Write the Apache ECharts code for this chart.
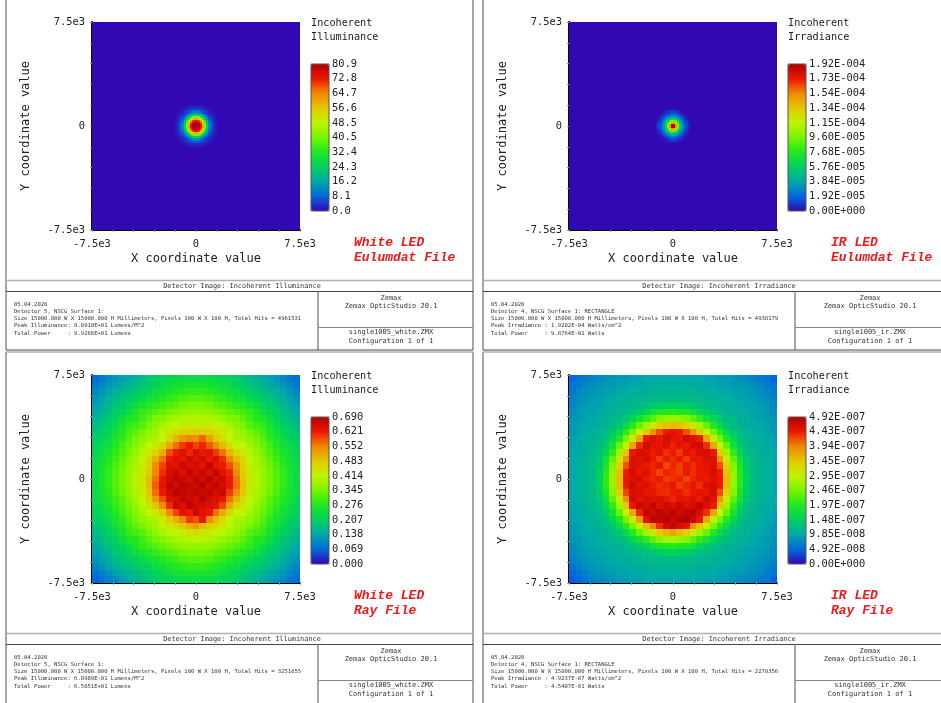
<!DOCTYPE html>
<html><head><meta charset="utf-8">
<style>html,body{margin:0;padding:0;background:#fff}#c{width:941px;height:703px}</style>
<script src="https://cdn.jsdelivr.net/npm/echarts@6/dist/echarts.min.js"></script>
</head><body><div id="c"></div>
<script>
// Values are percent of each detector's peak.
const whiteEulumdatSpot = [
[0,0,0,0,0,1,1,2,2,2,2,2,2,1,1,0,0,0,0,0],
[0,0,0,1,1,2,3,3,4,4,4,4,3,3,2,1,1,0,0,0],
[0,0,1,1,3,4,5,6,8,8,8,8,6,5,4,3,1,1,0,0],
[0,1,1,3,4,6,9,11,14,16,16,14,11,9,6,4,3,1,1,0],
[0,1,3,4,7,11,16,23,28,32,32,28,23,16,11,7,4,3,1,0],
[1,2,4,6,11,18,28,40,48,52,52,48,40,28,18,11,6,4,2,1],
[1,3,5,9,16,28,42,58,69,75,75,69,58,42,28,16,9,5,3,1],
[2,3,6,11,23,40,58,75,87,92,92,87,75,58,40,23,11,6,3,2],
[2,4,8,14,28,48,69,87,96,100,100,96,87,69,48,28,14,8,4,2],
[2,4,8,16,32,52,75,92,100,100,100,100,92,75,52,32,16,8,4,2],
[2,4,8,16,32,52,75,92,100,100,100,100,92,75,52,32,16,8,4,2],
[2,4,8,14,28,48,69,87,96,100,100,96,87,69,48,28,14,8,4,2],
[2,3,6,11,23,40,58,75,87,92,92,87,75,58,40,23,11,6,3,2],
[1,3,5,9,16,28,42,58,69,75,75,69,58,42,28,16,9,5,3,1],
[1,2,4,6,11,18,28,40,48,52,52,48,40,28,18,11,6,4,2,1],
[0,1,3,4,7,11,16,23,28,32,32,28,23,16,11,7,4,3,1,0],
[0,1,1,3,4,6,9,11,14,16,16,14,11,9,6,4,3,1,1,0],
[0,0,1,1,3,4,5,6,8,8,8,8,6,5,4,3,1,1,0,0],
[0,0,0,1,1,2,3,3,4,4,4,4,3,3,2,1,1,0,0,0],
[0,0,0,0,0,1,1,2,2,2,2,2,2,1,1,0,0,0,0,0]];
const irEulumdatSpot = [
[0,0,0,0,1,1,2,3,3,2,1,1,0,0,0,0],
[0,0,1,1,3,4,6,7,7,6,4,3,1,1,0,0],
[0,1,2,4,7,8,10,11,11,10,8,7,4,2,1,0],
[0,1,4,7,10,14,17,19,19,17,14,10,7,4,1,0],
[1,3,7,10,15,21,27,32,32,27,21,15,10,7,3,1],
[1,4,8,14,21,32,44,52,52,44,32,21,14,8,4,1],
[2,6,10,17,27,44,62,78,78,62,44,27,17,10,6,2],
[3,7,11,19,32,52,78,100,100,78,52,32,19,11,7,3],
[3,7,11,19,32,52,78,100,100,78,52,32,19,11,7,3],
[2,6,10,17,27,44,62,78,78,62,44,27,17,10,6,2],
[1,4,8,14,21,32,44,52,52,44,32,21,14,8,4,1],
[1,3,7,10,15,21,27,32,32,27,21,15,10,7,3,1],
[0,1,4,7,10,14,17,19,19,17,14,10,7,4,1,0],
[0,1,2,4,7,8,10,11,11,10,8,7,4,2,1,0],
[0,0,1,1,3,4,6,7,7,6,4,3,1,1,0,0],
[0,0,0,0,1,1,2,3,3,2,1,1,0,0,0,0]];
const whiteRayGrid = [
[11,13,15,17,19,21,23,25,27,29,31,32,33,34,34,34,34,34,33,32,31,29,27,25,23,21,19,17,15,13,11],
[13,15,17,19,21,23,25,27,29,31,33,35,36,37,38,38,38,37,36,35,33,31,29,27,25,23,21,19,17,15,13],
[15,17,19,22,24,26,28,30,32,34,36,38,40,41,42,42,42,41,40,38,36,34,32,30,28,26,24,22,19,17,15],
[17,19,22,24,27,29,31,33,36,38,40,42,43,45,46,46,46,45,43,42,40,38,36,33,31,29,27,24,22,19,17],
[19,21,24,27,29,32,35,38,40,42,44,46,47,49,50,50,50,49,47,46,44,42,40,38,35,32,29,27,24,21,19],
[21,23,26,29,32,34,39,42,44,46,48,50,52,53,54,54,54,53,52,50,48,46,44,42,39,34,32,29,26,23,21],
[23,25,28,31,35,39,40,44,47,50,52,54,56,57,58,58,58,57,56,54,52,50,47,44,40,39,35,31,28,25,23],
[25,27,30,33,38,42,44,46,50,53,56,59,60,62,62,63,62,62,60,59,56,53,50,46,44,42,38,33,30,27,25],
[27,29,32,36,40,44,47,50,53,56,60,63,66,68,69,70,69,68,66,63,60,56,53,50,47,44,40,36,32,29,27],
[29,31,34,38,42,46,50,53,56,57,60,67,73,78,80,79,83,76,70,66,60,57,56,53,50,46,42,38,34,31,29],
[31,33,36,40,44,48,52,56,60,62,68,75,82,87,90,86,89,84,79,72,66,60,60,56,52,48,44,40,36,33,31],
[32,35,38,42,46,50,54,59,63,68,74,85,90,93,89,94,91,92,87,82,73,66,63,59,54,50,46,42,38,35,32],
[33,36,40,43,47,52,56,60,66,74,82,90,93,91,95,92,94,90,93,88,80,72,66,60,56,52,47,43,40,36,33],
[34,37,41,45,49,53,57,62,68,79,86,93,92,96,93,95,92,97,91,90,85,77,68,62,57,53,49,45,41,37,34],
[34,38,42,46,50,54,58,62,69,80,88,94,96,93,97,94,96,93,97,92,89,79,69,62,58,54,50,46,42,38,34],
[34,38,42,46,50,54,58,63,72,82,91,95,97,96,94,98,95,98,94,96,90,81,70,63,58,54,50,46,42,38,34],
[34,38,42,46,50,54,58,63,72,84,92,97,95,98,97,96,99,95,97,94,91,82,71,62,58,54,50,46,42,38,34],
[34,37,41,45,49,53,57,62,70,82,90,95,98,97,95,98,96,97,94,96,87,79,69,62,57,53,49,45,41,37,34],
[33,36,40,43,47,52,56,60,68,77,85,93,94,97,96,94,98,95,93,91,82,73,66,60,56,52,47,43,40,36,33],
[32,35,38,42,46,50,54,59,64,71,79,88,96,93,98,95,94,93,92,86,75,67,63,59,54,50,46,42,38,35,32],
[31,33,36,40,44,48,52,56,60,63,70,79,86,92,90,96,92,90,82,74,67,60,60,56,52,48,44,40,36,33,31],
[29,31,34,38,42,46,50,53,56,57,61,69,74,80,87,85,91,79,72,66,60,57,56,53,50,46,42,38,34,31,29],
[27,29,32,36,40,44,47,50,53,56,60,63,66,70,74,77,72,68,66,63,60,56,53,50,47,44,40,36,32,29,27],
[25,27,30,33,38,42,44,46,50,53,56,59,60,62,64,66,63,62,60,59,56,53,50,46,44,42,38,33,30,27,25],
[23,25,28,31,35,39,40,44,47,50,52,54,56,57,58,59,58,57,56,54,52,50,47,44,40,39,35,31,28,25,23],
[21,23,26,29,32,34,39,42,44,46,48,50,52,53,54,54,54,53,52,50,48,46,44,42,39,34,32,29,26,23,21],
[19,21,24,27,29,32,35,38,40,42,44,46,47,49,50,50,50,49,47,46,44,42,40,38,35,32,29,27,24,21,19],
[17,19,22,24,27,29,31,33,36,38,40,42,43,45,46,46,46,45,43,42,40,38,36,33,31,29,27,24,22,19,17],
[15,17,19,22,24,26,28,30,32,34,36,38,40,41,42,42,42,41,40,38,36,34,32,30,28,26,24,22,19,17,15],
[12,14,16,19,21,23,25,27,29,31,33,35,36,37,38,38,38,37,36,35,33,31,29,27,25,23,21,19,17,15,13],
[10,12,14,16,19,21,23,25,27,29,31,32,33,34,34,34,34,34,33,32,31,29,27,25,23,21,19,17,15,13,11]];
const irRayGrid = [
[10,12,13,14,15,16,17,18,18,19,19,20,20,20,20,20,20,20,20,20,19,19,18,18,17,16,15,14,13,12,10],
[12,13,15,16,17,18,18,19,19,20,21,21,22,22,22,22,22,22,22,21,21,20,19,19,18,18,17,16,15,13,12],
[13,15,16,17,18,19,19,20,21,22,22,22,23,23,23,23,23,23,23,22,22,22,21,20,19,19,18,17,16,15,13],
[14,16,17,18,19,19,20,22,22,23,23,24,24,25,25,25,25,25,24,24,23,23,22,22,20,19,19,18,17,16,14],
[15,17,18,19,19,21,22,22,23,24,25,26,28,29,30,31,30,29,28,26,25,24,23,22,22,21,19,19,18,17,15],
[16,18,19,19,21,22,22,23,25,26,29,32,36,39,40,41,40,39,36,32,29,26,25,23,22,22,21,19,19,18,16],
[17,18,19,20,22,22,24,25,28,32,37,42,47,52,54,55,54,52,47,42,37,32,28,25,24,22,22,20,19,18,17],
[18,19,20,21,22,23,25,28,33,40,48,56,62,68,71,72,71,68,62,56,48,40,33,28,25,23,22,21,20,19,18],
[18,19,21,22,23,25,28,33,41,50,60,70,78,85,90,92,90,85,78,70,60,50,41,33,28,25,23,22,21,19,18],
[19,20,22,22,24,26,32,40,50,62,75,90,93,91,94,92,91,95,93,90,75,62,50,40,32,26,24,22,22,20,19],
[19,21,22,23,25,29,37,48,60,75,88,95,92,91,93,89,92,90,94,95,88,75,60,48,37,29,25,23,22,21,19],
[20,21,22,24,26,32,42,56,70,90,94,93,90,92,88,90,87,92,90,93,94,90,70,56,42,32,26,24,22,21,20],
[20,22,23,24,28,36,47,62,78,93,92,94,90,87,90,88,90,87,91,90,93,93,78,62,47,36,28,24,23,22,20],
[20,22,23,25,29,38,52,68,85,93,92,90,89,91,86,89,87,90,88,91,92,93,85,68,52,38,29,25,23,22,20],
[20,22,23,25,30,41,54,71,90,94,91,93,89,86,89,88,87,90,88,90,92,94,90,71,54,41,30,25,23,22,20],
[20,22,23,25,31,41,55,72,91,93,94,90,89,90,87,88,89,86,89,91,90,93,90,72,55,41,31,25,23,22,20],
[20,22,23,25,30,41,54,71,90,95,92,93,90,88,89,91,87,89,91,88,93,94,90,71,54,41,30,25,23,22,20],
[20,22,23,25,29,38,52,68,86,94,93,91,92,89,88,90,91,88,90,92,91,94,85,68,52,38,29,25,23,22,20],
[20,22,23,24,28,36,47,62,79,95,92,94,92,93,91,89,92,91,93,90,95,92,78,62,47,36,28,24,23,22,20],
[20,21,22,24,26,32,42,56,70,91,96,94,97,93,95,93,96,93,94,97,93,90,70,56,42,32,26,24,22,21,20],
[19,21,22,23,25,29,37,48,60,75,89,97,95,98,96,98,95,97,98,94,88,75,60,48,37,29,25,23,22,21,19],
[19,20,22,22,24,26,32,40,50,62,76,92,98,97,99,96,98,99,96,91,75,62,50,40,32,26,24,22,22,20,19],
[18,19,21,22,23,25,28,33,41,50,60,71,80,88,95,97,94,91,78,70,60,50,41,33,28,25,23,22,21,19,18],
[18,19,20,21,22,23,25,28,33,40,48,56,62,69,73,76,72,68,62,56,48,40,33,28,25,23,22,21,20,19,18],
[17,18,19,20,22,22,24,25,28,32,37,42,47,52,55,56,54,52,47,42,37,32,28,25,24,22,22,20,19,18,17],
[16,18,19,19,21,22,22,23,25,26,29,32,36,39,40,41,40,39,36,32,29,26,25,23,22,22,21,19,19,18,16],
[15,17,18,19,19,21,22,22,23,24,25,26,28,29,30,31,30,29,28,26,25,24,23,22,22,21,19,19,18,17,15],
[14,16,17,18,19,19,20,22,22,23,23,24,24,25,25,25,25,25,24,24,23,23,22,22,20,19,19,18,17,16,14],
[12,14,16,17,18,19,19,20,21,22,22,22,23,23,23,23,23,23,23,22,22,22,21,20,19,19,18,17,16,15,13],
[10,12,14,16,17,18,18,19,19,20,21,21,22,22,22,22,22,22,22,21,21,20,19,19,18,18,17,16,15,13,12],
[9,10,12,14,15,16,17,18,18,19,19,20,20,20,20,20,20,20,20,20,19,19,18,18,17,16,15,14,13,12,10]];

const peaks = [80.9, 1.92e-4, 0.69, 4.92e-7];
const detectorCells = [100, 100, 31, 31];
const colorTicks0 = ['0.0','8.1','16.2','24.3','32.4','40.5','48.5','56.6','64.7','72.8','80.9'];
const colorTicks1 = ['0.00E+000','1.92E-005','3.84E-005','5.76E-005','7.68E-005','9.60E-005','1.15E-004','1.34E-004','1.54E-004','1.73E-004','1.92E-004'];
const colorTicks2 = ['0.000','0.069','0.138','0.207','0.276','0.345','0.414','0.483','0.552','0.621','0.690'];
const colorTicks3 = ['0.00E+000','4.92E-008','9.85E-008','1.48E-007','1.97E-007','2.46E-007','2.95E-007','3.45E-007','3.94E-007','4.43E-007','4.92E-007'];
const coordTicks = {'-7500':'-7.5e3','0':'0','7500':'7.5e3'};
const palette = ['#3208b4','#0068dc','#00a8a8','#00d060','#20e820','#78f400','#c0f400','#e4c800','#f08800','#ee1800','#b00000'];
const quantityNames = ['Illuminance','Irradiance','Illuminance','Irradiance'];
const sourceLines = [['White LED','Eulumdat File'],['IR LED','Eulumdat File'],['White LED','Ray File'],['IR LED','Ray File']];
const surfaceLines = ['Detector 5, NSCG Surface 1:','Detector 4, NSCG Surface 1: RECTANGLE','Detector 5, NSCG Surface 1:','Detector 4, NSCG Surface 1: RECTANGLE'];
const hitsLines = ['4961531','4938179','3251655','2270356'];
const peakLines = ['Peak Illuminance: 8.0910E+01 Lumens/M^2','Peak Irradiance : 1.9202E-04 Watts/cm^2','Peak Illuminance: 6.8989E-01 Lumens/M^2','Peak Irradiance : 4.9237E-07 Watts/cm^2'];
const powerLines = ['Total Power     : 9.9266E+01 Lumens','Total Power     : 9.8764E-01 Watts','Total Power     : 6.5051E+01 Lumens','Total Power     : 4.5407E-01 Watts'];
const fileNames = ['single1005_white.ZMX','single1005_ir.ZMX','single1005_white.ZMX','single1005_ir.ZMX'];

const grids = [whiteEulumdatSpot, irEulumdatSpot, whiteRayGrid, irRayGrid];
const ticks = [colorTicks0, colorTicks1, colorTicks2, colorTicks3];
const offsets = [[0,0],[477,0],[0,353],[477,353]];
const MONO = '"DejaVu Sans Mono", monospace';
const SPAN = 15000;

function cellsFor(k){
  const n = detectorCells[k], rows = grids[k], m = rows.length, start = (n - m) / 2, size = SPAN / n, out = [];
  for (let r = 0; r < n; r++) for (let c = 0; c < n; c++) {
    const inside = r >= start && r < start + m && c >= start && c < start + m;
    const pct = inside ? rows[r - start][c - start] : 0;
    out.push([-SPAN/2 + (c + .5) * size, SPAN/2 - (r + .5) * size, pct / 100 * peaks[k]]);
  }
  return out;
}

const opt = {animation:false, backgroundColor:'#fff', grid:[], xAxis:[], yAxis:[], series:[], visualMap:[], graphic:[]};
const g = opt.graphic;
const line = (x1,y1,x2,y2,stroke,w) => g.push({type:'line',silent:true,shape:{x1,y1,x2,y2},style:{stroke,lineWidth:w}});
const text = (x,y,t,font,fill,align) => g.push({type:'text',silent:true,x,y,style:{text:t,font,fill:fill||'#222',textAlign:align||'left',textVerticalAlign:'middle'}});

offsets.forEach(([dx,dy],k) => {
  const half = SPAN / detectorCells[k] / 2;
  opt.grid.push({left:92+dx,top:22+dy,width:208,height:208,show:false});
  const lab = {show:true,fontFamily:MONO,fontSize:10.4,color:'#222',formatter:v=>coordTicks[String(Math.round(v))]||'',hideOverlap:false,showMinLabel:true,showMaxLabel:true};
  const base = {type:'value',min:-7500,max:7500,interval:1500,gridIndex:2*k,splitLine:{show:false},
    axisLine:{show:true,onZero:false,lineStyle:{color:'#000',width:2}},axisTick:{show:true,length:2,lineStyle:{color:'#999',width:1}},
    nameLocation:'middle',nameMoveOverlap:false,nameTextStyle:{fontFamily:MONO,fontSize:12,color:'#222'}};
  opt.xAxis.push({...base,axisLabel:{...lab,margin:9},position:'bottom',name:'X coordinate value',nameGap:23});
  opt.yAxis.push({...base,axisLabel:{...lab,margin:7},position:'left',name:'Y coordinate value',nameGap:60,nameRotate:90});
  opt.series.push({type:'custom',coordinateSystem:'cartesian2d',xAxisIndex:2*k,yAxisIndex:2*k,progressive:0,silent:true,
    encode:{x:0,y:1},data:cellsFor(k),
    renderItem:(p,api)=>{
      const a=api.coord([api.value(0)-half,api.value(1)+half]), b=api.coord([api.value(0)+half,api.value(1)-half]);
      const x=Math.round(a[0]), y=Math.round(a[1]);
      return {type:'rect',shape:{x,y,width:Math.round(b[0])-x,height:Math.round(b[1])-y},style:{fill:api.visual('color')}};
    }});
  opt.visualMap.push({type:'continuous',seriesIndex:k,dimension:2,min:0,max:peaks[k],show:true,calculable:false,hoverLink:false,
    left:311+dx,top:64+dy,itemWidth:18,itemHeight:147,padding:0,text:null,showLabel:false,inRange:{color:palette}});

  // colour-bar scale
  opt.grid.push({left:311+dx,top:64+dy,width:18,height:147,show:true,z:5,backgroundColor:'transparent',borderColor:'#555',borderWidth:1});
  opt.xAxis.push({type:'value',gridIndex:2*k+1,min:0,max:1,show:false});
  opt.yAxis.push({type:'value',gridIndex:2*k+1,position:'right',min:0,max:100,interval:10,splitLine:{show:false},
    axisLine:{show:false},axisTick:{show:false},
    axisLabel:{fontFamily:MONO,fontSize:10.4,color:'#222',margin:3,formatter:v=>ticks[k][Math.round(v/10)]}});

  // report frame
  const y0 = dy ? 352 : 0;
  line(6+dx,y0,6+dx,350+dy,'#8a8a8a',1.5);
  line(473+dx,y0,473+dx,350+dy,'#8a8a8a',1.5);
  if (dy) line(6+dx,352,473+dx,352,'#b0b0b0',1.5);
  line(6+dx,280.5+dy,473+dx,280.5+dy,'#b0b0b0',1.5);
  line(6+dx,291.5+dy,473+dx,291.5+dy,'#444',1);
  line(318+dx,291.5+dy,318+dx,350+dy,'#8a8a8a',1.5);
  line(318+dx,327.5+dy,473+dx,327.5+dy,'#8a8a8a',1);
  if (!dy) line(6+dx,350,473+dx,350,'#444',1);

  text(311+dx,23+dy,'Incoherent',`10.2px ${MONO}`);
  text(311+dx,37+dy,quantityNames[k],`10.2px ${MONO}`);
  const red = 'italic bold 13px "Liberation Mono", monospace';
  text(354+dx,243+dy,sourceLines[k][0],red,'#f01818');
  text(354+dx,258+dy,sourceLines[k][1],red,'#f01818');

  text(242+dx,286+dy,'Detector Image: Incoherent '+quantityNames[k],`6.9px ${MONO}`,'#333','center');
  const small = `5.56px ${MONO}`;
  text(14+dx,304.5+dy,'05.04.2020',small,'#333');
  text(14+dx,311.5+dy,surfaceLines[k],small,'#333');
  text(14+dx,318.5+dy,`Size 15000.000 W X 15000.000 H Millimeters, Pixels 100 W X 100 H, Total Hits = ${hitsLines[k]}`,small,'#333');
  text(14+dx,326+dy,peakLines[k],small,'#333');
  text(14+dx,333.5+dy,powerLines[k],small,'#333');
  const cx = dx ? 870 : 391;
  text(cx,298.5+dy,'Zemax',`7px ${MONO}`,'#333','center');
  text(cx,306.5+dy,'Zemax OpticStudio 20.1',`7px ${MONO}`,'#333','center');
  text(cx,332.5+dy,fileNames[k],`7px ${MONO}`,'#333','center');
  text(cx,341.5+dy,'Configuration 1 of 1',`7px ${MONO}`,'#333','center');
});

const chart = echarts.init(document.getElementById('c'),null,{renderer:'canvas'});
chart.setOption(opt);
</script></body></html>
